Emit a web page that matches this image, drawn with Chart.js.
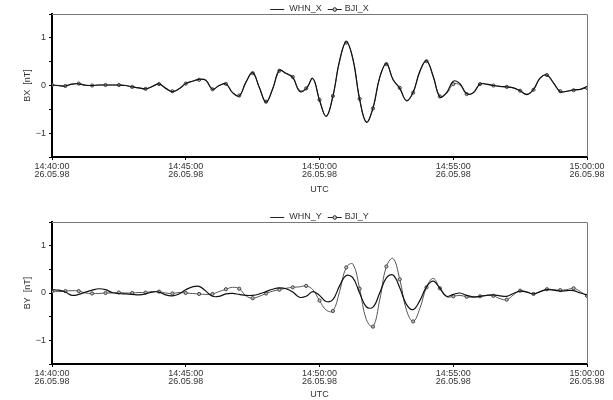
<!DOCTYPE html>
<html>
<head>
<meta charset="utf-8">
<script src="https://cdn.jsdelivr.net/npm/chart.js@4"></script>
<style>
  body { margin: 0; background: #fff; }
  .panel { position: absolute; left: 0; width: 613px; height: 200px; }
</style>
</head>
<body>
<div class="panel" style="top:0"><canvas id="chartX" width="613" height="200"></canvas></div>
<div class="panel" style="top:200px"><canvas id="chartY" width="613" height="200"></canvas></div>
<script>
// time axis: minutes after 14:40:00, one sample every 15 s
const minutes = Array.from({ length: 81 }, (_, i) => i * 0.25);
const timeTicks = ['14:40:00', '14:45:00', '14:50:00', '14:55:00', '15:00:00'];
const dateLabel = '26.05.98';
const yTickLabels = ['\u22121', '0', '1'];

// BX [nT]
const whnX = [
  0.01, 0.00, -0.01, 0.03, 0.035, 0.005, 0.00, 0.01, 0.01, 0.01, 0.01, 0.00, -0.03, -0.05, -0.07, -0.02,
  0.035, -0.06, -0.13, -0.07, 0.04, 0.09, 0.13, 0.11, -0.08, 0.00, 0.035, -0.15, -0.22, 0.07, 0.27, -0.04,
  -0.35, -0.07, 0.32, 0.25, 0.17, -0.12, -0.07, 0.15, -0.31, -0.65, -0.23, 0.52, 0.92, 0.55, -0.29, -0.77,
  -0.47, 0.17, 0.46, 0.12, -0.06, -0.32, -0.14, 0.29, 0.52, 0.19, -0.24, -0.15, 0.09, 0.04, -0.17, -0.15,
  0.03, 0.03, 0.00, -0.02, -0.03, -0.05, -0.11, -0.19, -0.08, 0.16, 0.22, 0.05, -0.13, -0.12, -0.09, -0.08,
  -0.02
];
const bjiX = [
  0.01, -0.005, -0.01, 0.03, 0.04, 0.01, 0.00, 0.01, 0.01, 0.01, 0.01, 0.00, -0.03, -0.05, -0.07, -0.02,
  0.03, -0.05, -0.12, -0.07, 0.04, 0.09, 0.12, 0.11, -0.08, 0.00, 0.035, -0.15, -0.21, 0.07, 0.26, -0.04,
  -0.34, -0.07, 0.31, 0.26, 0.18, -0.10, -0.06, 0.14, -0.30, -0.64, -0.22, 0.50, 0.90, 0.56, -0.28, -0.76,
  -0.48, 0.16, 0.45, 0.13, -0.05, -0.31, -0.15, 0.31, 0.51, 0.20, -0.23, -0.17, 0.03, 0.01, -0.18, -0.15,
  0.03, 0.02, 0.00, -0.02, -0.03, -0.05, -0.11, -0.18, -0.09, 0.15, 0.22, 0.06, -0.12, -0.12, -0.10, -0.08,
  -0.05
];

// BY [nT]
const whnY = [
  0.07, 0.06, 0.02, -0.05, -0.03, 0.02, 0.06, 0.09, 0.07, 0.01, -0.01, -0.02, -0.03, -0.04, -0.02, 0.02,
  0.02, -0.04, -0.06, -0.02, 0.07, 0.13, 0.14, 0.04, -0.07, -0.07, -0.02, -0.01, -0.03, -0.05, -0.05, -0.02,
  0.03, 0.08, 0.11, 0.09, 0.02, -0.09, -0.07, 0.03, -0.05, -0.18, -0.14, 0.15, 0.37, 0.32, 0.00, -0.29,
  -0.30, 0.00, 0.32, 0.38, 0.11, -0.24, -0.35, -0.16, 0.13, 0.25, 0.10, -0.07, -0.03, 0.00, -0.05, -0.08,
  -0.07, -0.05, -0.04, -0.06, -0.07, -0.01, 0.04, 0.02, -0.02, 0.03, 0.07, 0.06, 0.04, 0.05, 0.05, 0.00,
  -0.04
];
const bjiY = [
  0.03, 0.03, 0.04, 0.05, 0.04, 0.00, -0.01, -0.01, 0.00, 0.00, 0.01, 0.00, 0.00, 0.01, 0.01, 0.03,
  0.03, 0.00, -0.01, 0.01, 0.00, -0.01, -0.02, -0.03, -0.02, 0.03, 0.08, 0.12, 0.09, -0.06, -0.11, -0.07,
  -0.01, 0.04, 0.07, 0.10, 0.12, 0.13, 0.15, 0.07, -0.16, -0.36, -0.38, 0.03, 0.54, 0.61, 0.09, -0.56,
  -0.71, -0.15, 0.56, 0.73, 0.29, -0.36, -0.60, -0.33, 0.12, 0.31, 0.10, -0.08, -0.07, -0.05, -0.08, -0.09,
  -0.07, -0.05, -0.06, -0.12, -0.14, -0.04, 0.05, 0.02, -0.02, 0.03, 0.08, 0.07, 0.06, 0.07, 0.10, 0.03,
  -0.06
];

Chart.defaults.font.family = '"Liberation Sans", Arial, sans-serif';
Chart.defaults.font.size = 9;
Chart.defaults.color = '#333';

// thin grey frame on top/right plus the "—— A  —o— B" legend
const frameAndLegend = {
  id: 'frameAndLegend',
  afterDraw(chart) {
    const { ctx, chartArea: a } = chart;
    ctx.save();
    ctx.strokeStyle = '#777';
    ctx.lineWidth = 1;
    ctx.beginPath();
    ctx.moveTo(a.left, a.top + 0.5);
    ctx.lineTo(a.right + 0.5, a.top + 0.5);
    ctx.lineTo(a.right + 0.5, a.bottom);
    ctx.stroke();

    const names = chart.data.datasets.map(d => d.label);
    ctx.font = '9px "Liberation Sans", Arial, sans-serif';
    ctx.fillStyle = '#333';
    ctx.textBaseline = 'middle';
    const w0 = ctx.measureText(names[0]).width;
    const w1 = ctx.measureText(names[1]).width;
    const total = 14 + 5 + w0 + 6 + 14 + 3 + w1;
    let x = (a.left + a.right) / 2 - total / 2;
    const y = a.top - 5;
    ctx.strokeStyle = '#222';
    ctx.beginPath(); ctx.moveTo(x, y + 0.5); ctx.lineTo(x + 14, y + 0.5); ctx.stroke();
    x += 19;
    ctx.fillText(names[0], x, y);
    x += w0 + 6;
    ctx.beginPath(); ctx.moveTo(x, y + 0.5); ctx.lineTo(x + 14, y + 0.5); ctx.stroke();
    ctx.beginPath(); ctx.arc(x + 7, y + 0.5, 1.8, 0, Math.PI * 2);
    ctx.fillStyle = '#ccc'; ctx.fill(); ctx.stroke();
    ctx.fillStyle = '#333';
    x += 17;
    ctx.fillText(names[1], x, y);
    ctx.restore();
  }
};

function makeChart(id, whn, bji, names, yTitle, padTop, axisHeight, utcPad) {
  const ctx = document.getElementById(id).getContext('2d');
  return new Chart(ctx, {
    type: 'line',
    data: {
      datasets: [{
        label: names[0],
        data: minutes.map((m, i) => ({ x: m, y: whn[i] })),
        borderColor: '#111',
        borderWidth: 1.2,
        pointRadius: 0,
        tension: 0.4
      }, {
        label: names[1],
        data: minutes.map((m, i) => ({ x: m, y: bji[i] })),
        borderColor: '#555',
        borderWidth: 1,
        pointRadius: c => (c.dataIndex % 2 === 0 ? 1.6 : 0),
        pointBackgroundColor: '#bbb',
        pointBorderColor: '#444',
        pointBorderWidth: 1,
        tension: 0.4
      }]
    },
    options: {
      responsive: false,
      animation: false,
      devicePixelRatio: 1,
      layout: { padding: { top: padTop, right: 26, left: 0, bottom: 0 } },
      plugins: { legend: { display: false }, tooltip: { enabled: false } },
      scales: {
        x: {
          type: 'linear',
          min: 0,
          max: 20,
          ticks: {
            stepSize: 5,
            maxRotation: 0,
            padding: 3,
            color: '#333',
            font: { lineHeight: 0.85 },
            callback: (v, i) => [timeTicks[i], dateLabel]
          },
          grid: { drawOnChartArea: false, tickLength: 3, color: '#000' },
          border: { color: '#000', width: 2 },
          title: { display: true, text: 'UTC', color: '#333', padding: { top: 0, bottom: utcPad } },
          afterFit: s => { s.height = axisHeight; }
        },
        y: {
          min: -1.5,
          max: 1.5,
          ticks: {
            stepSize: 0.5,
            padding: 3,
            color: '#333',
            callback: v => (Number.isInteger(v) ? yTickLabels[v + 1] : '')
          },
          grid: { drawOnChartArea: false, tickLength: 3, color: '#000' },
          border: { color: '#000', width: 2 },
          title: { display: true, text: yTitle, color: '#333', padding: { top: 22, bottom: 0 } },
          afterFit: s => { s.width = 52; }
        }
      }
    },
    plugins: [frameAndLegend]
  });
}

makeChart('chartX', whnX, bjiX, ['WHN_X', 'BJI_X'], 'BX  [nT]', 14, 43, 5);
makeChart('chartY', whnY, bjiY, ['WHN_Y', 'BJI_Y'], 'BY  [nT]', 22, 36, 0);
</script>
</body>
</html>
